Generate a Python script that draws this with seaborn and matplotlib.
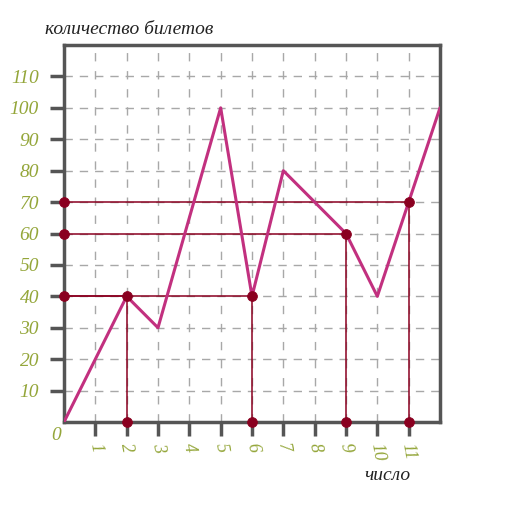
import numpy as np
import pandas as pd
import seaborn as sns
import matplotlib.pyplot as plt

# data
days = [0, 2, 3, 5, 6, 7, 9, 10, 12]
tickets = [0, 40, 30, 100, 40, 80, 60, 40, 100]

# points picked out on the graph
pick_x = [2, 6, 9, 11]
pick_y = [40, 40, 60, 70]

x_ticks = list(range(1, 12))
y_ticks = list(range(10, 120, 10))

line_color = '#c2307f'
mark_color = '#8a0020'
label_color = '#94a63a'
spine_color = '#555555'

sns.set_style('white')
plt.rcParams['font.family'] = ['Liberation Serif', 'DejaVu Serif']

fig = plt.figure(figsize=(5.21, 5.08), dpi=100)
ax = fig.add_axes([64 / 521, 1 - 422 / 508, 376 / 521, 377 / 508])

df = pd.DataFrame({'x': days, 'y': tickets})

# grid
for xv in x_ticks:
    ax.axvline(xv, color='#a8a8a8', lw=1, ls=(0, (6, 7)), zorder=0)
for yv in y_ticks:
    ax.axhline(yv, color='#a8a8a8', lw=1, ls=(0, (6, 5)), zorder=0)

# helper lines to the axes
ax.hlines(pick_y, 0, pick_x, color=mark_color, lw=1.1, zorder=2)
ax.vlines(pick_x, 0, pick_y, color=mark_color, lw=1.1, zorder=2)

sns.lineplot(data=df, x='x', y='y', color=line_color, lw=2.2, ax=ax, zorder=3)

dots = pd.DataFrame({
    'x': pick_x + pick_x + [0, 0, 0],
    'y': pick_y + [0, 0, 0, 0] + sorted(set(pick_y)),
})
sns.scatterplot(data=dots, x='x', y='y', color=mark_color, s=50,
                edgecolor=mark_color, ax=ax, zorder=5, clip_on=False)

ax.set_xlim(0, 12)
ax.set_ylim(0, 120)
ax.set_xticks(x_ticks)
ax.set_yticks(y_ticks)
ax.set_xticklabels([str(v) for v in x_ticks], rotation=-80, style='italic',
                   color=label_color, fontsize=13)
ax.set_yticklabels([str(v) for v in y_ticks], style='italic',
                   color=label_color, fontsize=14)
ax.tick_params(axis='both', direction='out', length=10, width=2.5,
               color=spine_color, bottom=True, left=True, pad=4)
ax.tick_params(axis='y', pad=8)
ax.set_xlabel('')
ax.set_ylabel('')

for s in ax.spines.values():
    s.set_visible(True)
    s.set_color(spine_color)
    s.set_linewidth(2.5)

ax.text(-0.1, -1.5, '0', transform=ax.transData, ha='right', va='top',
        style='italic', color=label_color, fontsize=14)
fig.text(45 / 521, 1 - 30 / 508, 'количество билетов', style='italic',
         fontsize=14, color='#222222', va='center')
fig.text(364 / 521, 1 - 476 / 508, 'число', style='italic',
         fontsize=14, color='#222222', va='center')

fig.savefig('out.png', dpi=100)
